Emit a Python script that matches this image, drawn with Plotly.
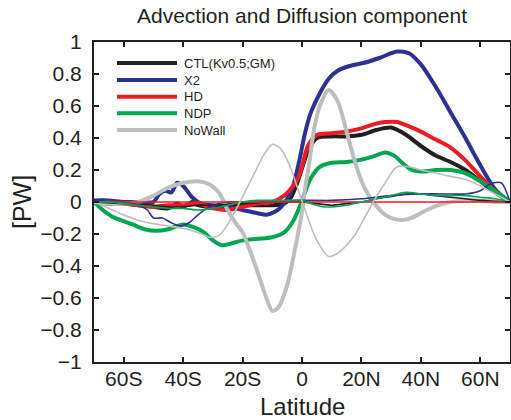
import plotly.graph_objects as go

# ---------------- data ----------------
series_names = ["CTL(Kv0.5;GM)", "X2", "HD", "NDP", "NoWall"]

# thick curves
ctl_lat = [-70, -65, -60, -55, -50, -45, -42, -40, -37, -35, -30, -25, -20, -15, -10, -6, -4, -2, 0, 2, 5, 10, 15, 20, 25, 30, 35, 40, 45, 50, 55, 60, 65, 70]
ctl_val = [0.0, -0.01, -0.01, -0.02, -0.03, -0.04, -0.01, -0.03, 0.0, -0.02, -0.03, -0.02, -0.02, -0.02, -0.02, -0.01, 0.02, 0.10, 0.21, 0.32, 0.40, 0.41, 0.41, 0.42, 0.45, 0.465, 0.42, 0.35, 0.29, 0.25, 0.20, 0.13, 0.06, 0.0]

x2_lat = [-70, -65, -60, -55, -50, -48, -46, -44, -42, -40, -37, -34, -30, -25, -20, -15, -12, -9, -7, -5, -3, -1, 1, 3, 6, 9, 12, 16, 21, 26, 32, 36, 40, 45, 50, 55, 60, 65, 70]
x2_val = [0.01, 0.01, 0.0, 0.0, 0.0, 0.05, 0.07, 0.06, 0.12, 0.10, 0.03, -0.01, -0.02, -0.03, -0.05, -0.07, -0.08, -0.06, -0.03, 0.02, 0.10, 0.25, 0.43, 0.56, 0.68, 0.77, 0.82, 0.85, 0.87, 0.90, 0.94, 0.93, 0.86, 0.72, 0.56, 0.40, 0.23, 0.08, 0.0]

hd_lat = [-70, -65, -60, -55, -50, -45, -40, -35, -30, -25, -20, -15, -10, -6, -3, -1, 0, 2, 5, 10, 15, 20, 25, 28, 32, 35, 40, 45, 50, 55, 60, 65, 70]
hd_val = [0.0, 0.0, -0.01, -0.02, -0.03, -0.02, -0.02, -0.01, -0.04, -0.05, -0.03, -0.01, 0.0, 0.04, 0.10, 0.16, 0.22, 0.35, 0.42, 0.43, 0.44, 0.46, 0.49, 0.50, 0.50, 0.48, 0.44, 0.39, 0.34, 0.26, 0.16, 0.07, 0.0]

ndp_lat = [-70, -67, -64, -60, -57, -53, -49, -45, -40, -36, -33, -30, -27, -24, -20, -15, -10, -6, -3, -1, 1, 3, 6, 10, 15, 20, 24, 28, 31, 34, 37, 41, 45, 50, 55, 60, 65, 70]
ndp_val = [0.0, -0.05, -0.09, -0.12, -0.14, -0.17, -0.18, -0.17, -0.14, -0.16, -0.19, -0.24, -0.27, -0.26, -0.24, -0.23, -0.22, -0.19, -0.12, -0.04, 0.06, 0.15, 0.22, 0.245, 0.25, 0.265, 0.285, 0.31, 0.29, 0.24, 0.20, 0.19, 0.20, 0.20, 0.18, 0.13, 0.07, 0.0]

nowall_lat = [-70, -65, -60, -55, -50, -45, -40, -35, -31, -28, -25, -22, -20, -17, -14, -12, -10, -8, -5, -2, 0, 1, 2.5, 4, 6, 9, 12, 15, 18, 21, 24, 28, 32, 35, 38, 42, 46, 50, 55, 60, 65, 70]
nowall_val = [0.0, -0.01, -0.01, 0.0, 0.04, 0.09, 0.12, 0.13, 0.11, 0.06, -0.05, -0.14, -0.19, -0.33, -0.49, -0.60, -0.68, -0.66, -0.52, -0.26, -0.06, 0.08, 0.25, 0.45, 0.60, 0.70, 0.63, 0.44, 0.24, 0.09, 0.0, -0.08, -0.11, -0.11, -0.09, -0.05, -0.02, 0.0, 0.01, 0.01, 0.0, 0.0]

# thin curves
ctl_thin_lat = [-70, -60, -50, -45, -40, -35, -30, -20, -10, 0, 5, 10, 15, 20, 25, 30, 35, 40, 45, 50, 55, 60, 65, 70]
ctl_thin_val = [0.0, -0.01, -0.02, -0.03, -0.03, -0.02, -0.02, -0.01, 0.0, 0.0, -0.01, -0.02, -0.01, 0.0, 0.02, 0.035, 0.05, 0.05, 0.04, 0.03, 0.02, 0.01, 0.005, 0.0]

x2_thin_lat = [-70, -65, -60, -55, -52, -50, -47, -44, -41, -38, -35, -32, -28, -25, -20, -10, 0, 10, 20, 30, 40, 50, 55, 60, 63, 67, 70]
x2_thin_val = [0.01, 0.005, 0.0, -0.02, -0.05, -0.10, -0.10, -0.13, -0.15, -0.13, -0.08, -0.04, -0.01, 0.0, 0.0, 0.0, 0.01, 0.01, 0.02, 0.04, 0.05, 0.05, 0.05, 0.07, 0.11, 0.12, 0.0]

hd_thin_lat = [-70, 70]
hd_thin_val = [0.0, 0.0]

ndp_thin_lat = [-70, -65, -60, -55, -50, -45, -40, -35, -30, -25, -20, -15, -10, -5, 0, 3, 7, 11, 15, 20, 25, 30, 35, 40, 45, 50, 55, 60, 65, 70]
ndp_thin_val = [0.0, 0.0, -0.01, -0.02, -0.03, -0.04, -0.04, -0.05, -0.04, -0.02, 0.0, 0.01, 0.01, 0.01, 0.01, -0.01, -0.03, -0.03, -0.02, 0.0, 0.02, 0.04, 0.06, 0.05, 0.04, 0.04, 0.04, 0.03, 0.02, 0.0]

nowall_thin_lat = [-70, -65, -60, -55, -50, -45, -40, -35, -31, -28, -25, -22, -19, -16, -13, -10, -7, -4, -1, 2, 5, 9, 12, 15, 18, 21, 24, 28, 32, 36, 40, 45, 50, 55, 60, 65, 70]
nowall_thin_val = [0.0, -0.04, -0.08, -0.115, -0.135, -0.15, -0.165, -0.19, -0.22, -0.21, -0.14, -0.04, 0.07, 0.18, 0.29, 0.36, 0.33, 0.22, 0.06, -0.10, -0.24, -0.34, -0.32, -0.27, -0.20, -0.10, 0.0, 0.12, 0.22, 0.22, 0.20, 0.18, 0.16, 0.14, 0.10, 0.05, 0.0]

x_tickvals = [-60, -40, -20, 0, 20, 40, 60]
x_ticktext = ["60S", "40S", "20S", "0", "20N", "40N", "60N"]
y_tickvals = [-1, -0.8, -0.6, -0.4, -0.2, 0, 0.2, 0.4, 0.6, 0.8, 1]
y_ticktext = ["\u22121", "\u22120.8", "\u22120.6", "\u22120.4", "\u22120.2", "0", "0.2", "0.4", "0.6", "0.8", "1"]

# ---------------- styling ----------------
colors = ["#231f20", "#2e3192", "#ed1c24", "#00a651", "#bcbec0"]
FONT = "Liberation Sans, Arial, Helvetica, sans-serif"
TXT = "#231f20"

thick = [(ctl_lat, ctl_val), (x2_lat, x2_val), (hd_lat, hd_val), (ndp_lat, ndp_val), (nowall_lat, nowall_val)]
thin = [(ctl_thin_lat, ctl_thin_val), (x2_thin_lat, x2_thin_val), (hd_thin_lat, hd_thin_val),
        (ndp_thin_lat, ndp_thin_val), (nowall_thin_lat, nowall_thin_val)]

fig = go.Figure()
for (lat, val), name, c in zip(thick, series_names, colors):
    fig.add_trace(go.Scatter(x=lat, y=val, mode="lines", name=name,
                             line=dict(color=c, width=4, shape="spline", smoothing=0.8),
                             showlegend=False, hoverinfo="skip"))
for (lat, val), name, c in zip(thin, series_names, colors):
    fig.add_trace(go.Scatter(x=lat, y=val, mode="lines", name=name + " (thin)",
                             line=dict(color=c, width=1.6, shape="spline", smoothing=0.8),
                             showlegend=False, hoverinfo="skip"))

# legend drawn as line samples + text (upper-left inside the axes)
L, R, T, B = 94, 1, 42, 58
W, H = 511 - L - R, 420 - T - B
leg_rows_px = [63, 80, 96.7, 113.3, 130]
for name, c, py in zip(series_names, colors, leg_rows_px):
    yp = (420 - B - py) / H
    fig.add_shape(type="line", xref="paper", yref="paper",
                  x0=(117 - L) / W, x1=(177 - L) / W, y0=yp, y1=yp,
                  line=dict(color=c, width=4))
    fig.add_annotation(xref="paper", yref="paper", x=(182 - L) / W, y=yp,
                       text=name, showarrow=False, xanchor="left", yanchor="middle",
                       font=dict(family=FONT, size=13, color=TXT))

# axis titles placed as annotations (pixel-accurate)
fig.add_annotation(xref="paper", yref="paper", x=(302 - L) / W, y=(420 - B - 406) / H,
                   text="Latitude", showarrow=False, xanchor="center", yanchor="middle",
                   font=dict(family=FONT, size=24, color=TXT))
fig.add_annotation(xref="paper", yref="paper", x=(22 - L) / W, y=(420 - B - 202) / H,
                   text="[PW]", showarrow=False, xanchor="center", yanchor="middle", textangle=-90,
                   font=dict(family=FONT, size=25, color=TXT))

axis_common = dict(showline=True, linecolor=TXT, linewidth=2, mirror="ticks",
                   ticks="inside", ticklen=5, tickwidth=1.5, tickcolor=TXT,
                   showgrid=False, zeroline=False, automargin=False,
                   tickfont=dict(family=FONT, size=21, color=TXT))

fig.update_layout(
    width=511, height=420,
    margin=dict(l=L, r=R, t=T, b=B, autoexpand=False),
    paper_bgcolor="white", plot_bgcolor="white",
    title=dict(text="Advection and Diffusion component", x=(L + 510) / 2 / 511, xanchor="center",
               y=1 - 16 / 420, yanchor="middle", yref="container",
               font=dict(family=FONT, size=21, color=TXT)),
    xaxis=dict(range=[-70, 70], tickmode="array", tickvals=x_tickvals, ticktext=x_ticktext,
               ticklabelstandoff=-3, **axis_common),
    yaxis=dict(range=[-1, 1], tickmode="array", tickvals=y_tickvals, ticktext=y_ticktext,
               ticklabelstandoff=6, **axis_common),
    showlegend=False,
)

fig.write_html("out.html")
